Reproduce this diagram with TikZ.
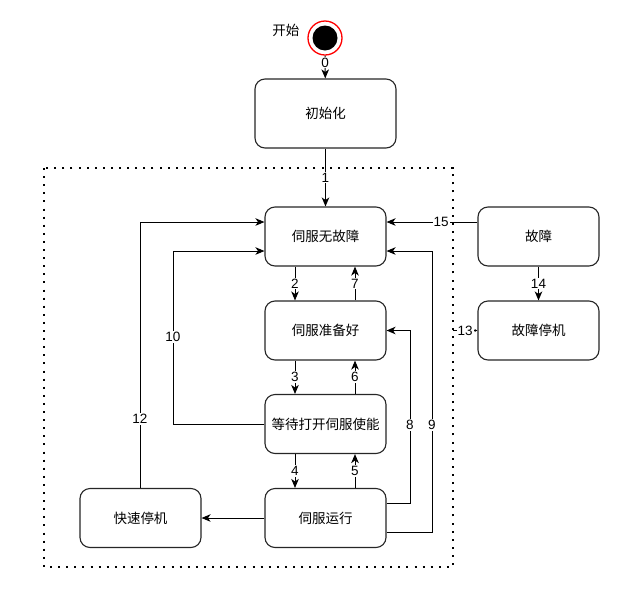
\documentclass[tikz,border=0pt]{standalone}
\usepackage{fontspec}
\setmainfont{Liberation Sans}
\newfontfamily\cjk{Noto Sans CJK SC}
\usetikzlibrary{arrows.meta}
\begin{document}
\begin{tikzpicture}[x=1pt,y=-1pt,
  state/.style={draw=black!85,line width=1.1pt,rounded corners=10pt,minimum width=121pt,minimum height=59pt,font=\cjk\fontsize{13.5}{15}\selectfont,fill=white},
  conn/.style={line width=1pt,-{Stealth[length=9pt,width=7.5pt,inset=2.5pt]}},
  plain/.style={line width=1pt},
  lbl/.style={fill=white,inner sep=1pt,font=\fontsize{13.5}{15}\selectfont}]
\useasboundingbox (0,0) rectangle (633,598);
% container
\draw[line width=2pt,dash pattern=on 2pt off 6.1pt] (44,168) rectangle (453,567);
% start
\node[draw=red,line width=1.3pt,circle,minimum size=34pt,inner sep=0pt] (start) at (325,38) {};
\fill[black] (325,38) circle (12.5pt);
\node[font=\cjk\fontsize{13.5}{15}\selectfont,anchor=east] (startlbl) at (303,30) {开始};
% states
\node[state,minimum width=141pt,minimum height=69pt] (init) at (325.5,113.5) {初始化};
\node[state] (ok) at (325.5,236.5) {伺服无故障};
\node[state] (ready) at (325.5,330.5) {伺服准备好};
\node[state] (wait) at (325.5,424) {等待打开伺服使能};
\node[state] (run) at (325.5,518) {伺服运行};
\node[state] (qstop) at (140.5,518) {快速停机};
\node[state] (fault) at (538.5,236.5) {故障};
\node[state] (fstop) at (538.5,330.5) {故障停机};
\coordinate (cr) at (453,330.5);
% edges
\draw[conn] (start) -- node[lbl,pos=0.3]{0} (init);
\draw[conn] (init) -- node[lbl,pos=0.5]{1} (ok);
\draw[conn] (ok.south -| 295,0) -- node[lbl]{2} (ready.north -| 295,0);
\draw[conn] (ready.north -| 355,0) -- node[lbl]{7} (ok.south -| 355,0);
\draw[conn] (ready.south -| 295,0) -- node[lbl]{3} (wait.north -| 295,0);
\draw[conn] (wait.north -| 355,0) -- node[lbl]{6} (ready.south -| 355,0);
\draw[conn] (wait.south -| 295,0) -- node[lbl]{4} (run.north -| 295,0);
\draw[conn] (run.north -| 355,0) -- node[lbl]{5} (wait.south -| 355,0);
\draw[conn] (run.east |- 0,503) -| (410,330.5) -- (ready.east);
\node[lbl] (l8) at (410,425) {8};
\draw[conn] (run.east |- 0,532) -| (432,251) -- (ok.east |- 0,251);
\node[lbl] (l9) at (432,425) {9};
\draw[conn] (wait.west) -| (173,251) -- (ok.west |- 0,251);
\node[lbl] (l10) at (173,337) {10};
\draw[conn] (qstop.north) |- (ok.west |- 0,222);
\node[lbl] (l12) at (140,419) {12};
\draw[conn] (run.west) -- (qstop.east);
\draw[conn] (fault.west |- 0,222) -- node[lbl,pos=0.4]{15} (ok.east |- 0,222);
\draw[conn] (fault.south) -- node[lbl,pos=0.5]{14} (fstop.north);
\draw[plain,-{Stealth[length=3pt,width=3pt]}] (cr) -- node[lbl,pos=0.5]{13} (fstop.west);
\end{tikzpicture}
\end{document}
